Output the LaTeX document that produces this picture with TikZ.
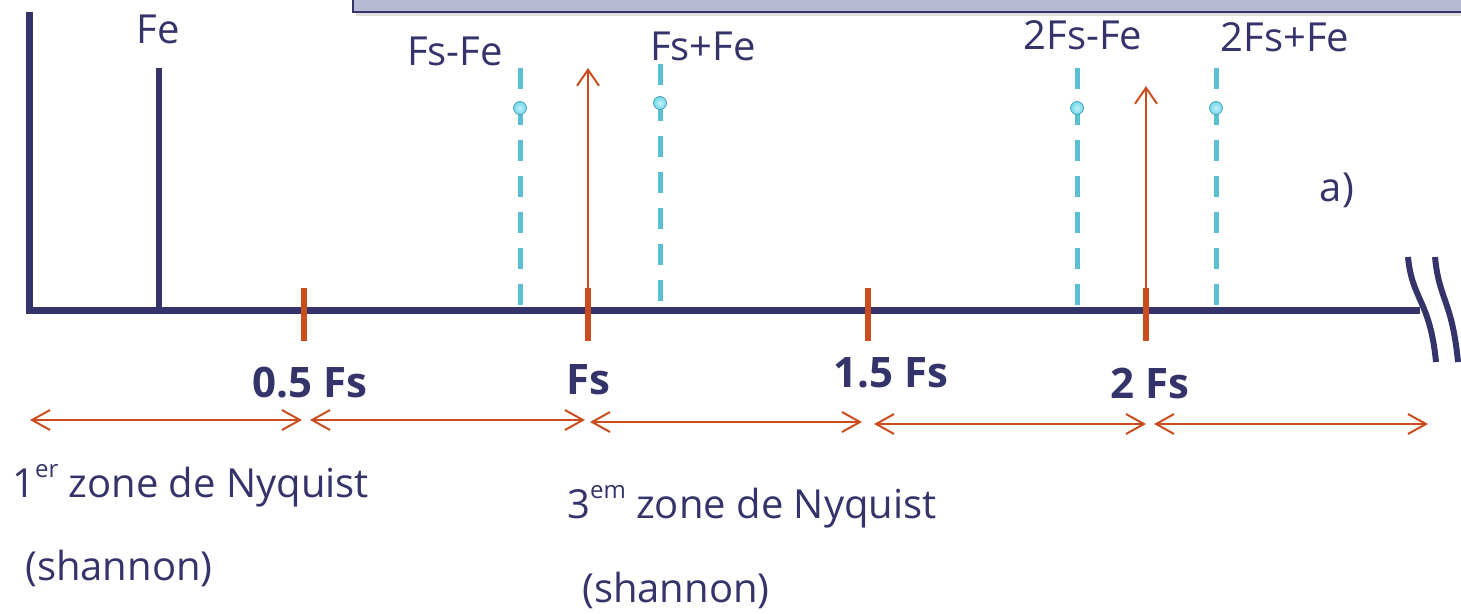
\documentclass[tikz,border=0pt]{standalone}
\usepackage{fontspec}
\setmainfont{Open Sans}
\usetikzlibrary{arrows.meta,shadows}
\definecolor{navy}{HTML}{34346A}
\definecolor{rust}{HTML}{C94D1E}
\definecolor{cyanl}{HTML}{5BBFD2}
\definecolor{cyanb}{HTML}{6FD9EC}
\definecolor{lav}{HTML}{B8BAD4}
\newcommand{\supx}[1]{\raisebox{0.5em}{\fontsize{24}{26}\selectfont #1}}
\tikzset{
  axisline/.style={draw=navy, line width=7pt, line cap=butt},
  feline/.style={draw=navy, line width=6pt},
  ticklin/.style={draw=rust, line width=5.5pt},
  sampl/.style={draw=rust, line width=2pt, -{Straight Barb[length=16pt,width=22pt,line width=2pt]}},
  zonearr/.style={draw=rust, line width=2pt, {Straight Barb[length=18pt,width=20pt,line width=2pt]}-{Straight Barb[length=18pt,width=20pt,line width=2pt]}},
  alias/.style={draw=cyanl, line width=5pt, dash pattern=on 21pt off 15pt},
  dotb/.style={circle, inner sep=0pt, minimum size=13pt, inner color=cyanb!40!white, outer color=cyanb, draw=cyanl!85!black, line width=0.8pt},
  lbl/.style={text=navy, font=\fontsize{40}{44}\selectfont, inner sep=0pt},
  blbl/.style={text=navy, font=\fontsize{42}{46}\selectfont\bfseries, inner sep=0pt},
  ztxt/.style={text=navy, font=\fontsize{40}{44}\selectfont, inner sep=0pt, anchor=base west},
  brk/.style={draw=navy, line width=6pt},
}
\begin{document}
\begin{tikzpicture}[x=1pt,y=-1pt]
\useasboundingbox (0,0) rectangle (1461,613);
% top banner
\fill[gray!25] (356,-20) rectangle (1470,16);
\draw[draw=navy, line width=2pt, fill=lav] (353,-20) rectangle (1470,12);
% axes
\coordinate (o) at (29,310);
\coordinate (ytop) at (29,12);
\coordinate (xend) at (1420,310);
\draw[axisline] (ytop) -- (o) -- (xend);
% break mark
\draw[brk] (1408,257) .. controls (1412,300) and (1430,300) .. (1436,362);
\draw[brk] (1435,257) .. controls (1439,300) and (1452,300) .. (1458,362);
% Fe line
\coordinate (fe0) at (159,310);
\coordinate (fe1) at (159,68);
\draw[feline] (fe0) -- (fe1);
\node[lbl] (fel) at (158,29) {Fe};
% ticks
\foreach \n/\x in {t05/304,t1/588,t15/868,t2/1146}{
  \coordinate (\n a) at (\x,288);
  \coordinate (\n b) at (\x,341);
  \draw[ticklin] (\n a) -- (\n b);
}
% sampling arrows
\coordinate (s1) at (588,68);
\coordinate (s2) at (1146,86);
\draw[sampl] (t1a |- o) -- (s1);
\draw[sampl] (t2a |- o) -- (s2);
% alias lines
\foreach \n/\x/\yt/\yd in {a1/520/68/108,a2/660/64/103,a3/1077/68/108,a4/1216/68/108}{
  \coordinate (\n t) at (\x,\yt);
  \coordinate (\n b) at (\x,310);
  \draw[alias] (\n t) -- (\n b);
  \node[dotb] (\n d) at (\x,\yd) {};
}
\node[lbl] (l1) at (455,51) {Fs-Fe};
\node[lbl] (l2) at (703,46) {Fs+Fe};
\node[lbl] (l3) at (1083,35) {2Fs-Fe};
\node[lbl] (l4) at (1285,37) {2Fs+Fe};
\node[lbl] (la) at (1337,190) {a)};
% tick labels
\node[blbl] (b1) at (310,383) {0.5 Fs};
\node[blbl] (b2) at (588,380) {Fs};
\node[blbl] (b3) at (891,373) {1.5 Fs};
\node[blbl] (b4) at (1150,383) {2 Fs};
% zone arrows
\coordinate (z0) at (30,420);
\coordinate (z1) at (302,420);
\coordinate (z1b) at (310,420);
\coordinate (z2) at (585,420);
\coordinate (z2b) at (590,422);
\coordinate (z3) at (862,422);
\coordinate (z3b) at (874,424);
\coordinate (z4) at (1146,424);
\coordinate (z4b) at (1154,424);
\coordinate (z5) at (1428,424);
\draw[zonearr] (z0) -- (z1);
\draw[zonearr] (z1b) -- (z2);
\draw[zonearr] (z2b) -- (z3);
\draw[zonearr] (z3b) -- (z4);
\draw[zonearr] (z4b) -- (z5);
% zone texts
\node[ztxt] (zt1) at (12,497) {1\supx{er} zone de Nyquist};
\node[ztxt] (zs1) at (25,580) {(shannon)};
\node[ztxt] (zt3) at (567,518) {3\supx{em} zone de Nyquist};
\node[ztxt] (zs3) at (582,602) {(shannon)};
\end{tikzpicture}
\end{document}
